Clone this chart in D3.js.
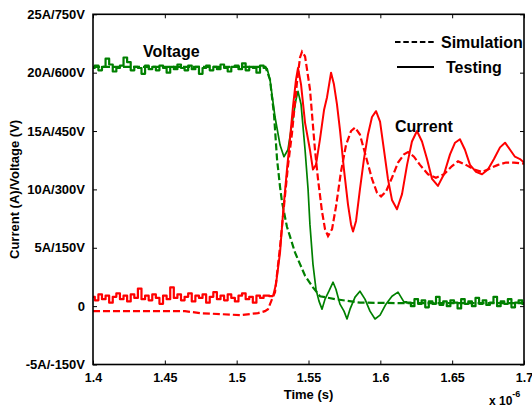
<!DOCTYPE html>
<html><head><meta charset="utf-8">
<script src="https://cdn.jsdelivr.net/npm/d3@7"></script>
<style>
body{margin:0;background:#fff}
svg{display:block}
text{font-family:"Liberation Sans",Arial,Helvetica,sans-serif;font-weight:bold;fill:#000}
</style>
</head><body>
<svg id="c" width="532" height="409"></svg>
<script>
// ---- data (time in microseconds, values in A; voltage scaled 30 V per A) ----
const xTicks = [1.4, 1.45, 1.5, 1.55, 1.6, 1.65, 1.7];
const xTickLabels = ["1.4", "1.45", "1.5", "1.55", "1.6", "1.65", "1.7"];
const yTicks = [-5, 0, 5, 10, 15, 20, 25];
const yTickLabels = ["-5A/-150V", "0", "5A/150V", "10A/300V", "15A/450V", "20A/600V", "25A/750V"];

const flatT = [1.4000,1.4025,1.4050,1.4075,1.4100,1.4125,1.4150,1.4175,1.4200,1.4225,
  1.4250,1.4275,1.4300,1.4325,1.4350,1.4375,1.4400,1.4425,1.4450,1.4475,
  1.4500,1.4525,1.4550,1.4575,1.4600,1.4625,1.4650,1.4675,1.4700,1.4725,
  1.4750,1.4775,1.4800,1.4825,1.4850,1.4875,1.4900,1.4925,1.4950,1.4975,
  1.5000,1.5025,1.5050,1.5075,1.5100,1.5125,1.5150,1.5175,1.5200];
const testVoltageFlat = [20.4,20.6,20.2,20.5,21.2,20.7,20.1,20.4,20.6,21.3,
  20.9,20.2,20.5,20.4,19.9,20.6,20.3,20.5,20.2,20.6,
  20.4,20.0,20.5,20.3,20.7,20.4,20.2,20.6,20.3,20.5,
  19.9,20.4,20.6,20.2,20.5,20.3,20.7,20.4,20.1,20.5,
  20.6,20.3,20.8,20.2,20.5,20.4,20.0,20.6,20.4];
const testCurrentFlat = [0.8,0.5,1.0,0.6,0.9,0.3,0.8,1.1,0.6,0.9,
  0.4,1.0,0.7,1.5,0.6,0.9,0.5,1.0,0.7,0.2,
  0.9,0.6,1.6,0.7,1.0,0.5,0.8,1.1,0.4,0.9,
  0.7,1.0,0.3,0.8,1.2,0.6,0.9,0.5,1.0,0.7,
  0.4,0.9,1.1,0.6,0.8,0.3,0.9,0.7,0.9];

const testVoltageTransient = [[1.5211,20.4],[1.5232,19.4],[1.5267,16.2],[1.5302,13.8],[1.5329,12.8],
  [1.5357,13.4],[1.5385,15.6],[1.5413,17.7],[1.5427,18.4],[1.5448,17.3],[1.5476,13.4],
  [1.5497,10.0],[1.5510,7.0],[1.5531,3.6],[1.5552,1.45],[1.5573,0.43],[1.5594,-0.26],
  [1.5615,0.6],[1.5643,1.3],[1.5671,2.05],[1.5691,1.45],[1.5719,0.17],[1.5747,-0.43],
  [1.5768,-1.1],[1.5789,-0.26],[1.5824,0.77],[1.5858,1.28],[1.5893,0.6],[1.5928,-0.43],
  [1.5963,-1.1],[1.5998,-0.77],[1.6039,0.17],[1.6081,0.85],[1.6123,1.2],[1.6165,0.34]];

const tailT = [1.6200,1.6225,1.6250,1.6275,1.6300,1.6325,1.6350,1.6375,1.6400,1.6425,
  1.6450,1.6475,1.6500,1.6525,1.6550,1.6575,1.6600,1.6625,1.6650,1.6675,
  1.6700,1.6725,1.6750,1.6775,1.6800,1.6825,1.6850,1.6875,1.6900,1.6925,
  1.6950,1.6975,1.7000];
const testVoltageTail = [0.3,0.0,0.6,0.2,0.5,-0.1,0.4,0.2,0.8,0.1,
  0.4,0.0,0.5,0.3,-0.2,0.6,0.2,0.4,0.0,0.7,
  0.2,0.5,0.1,0.3,0.8,0.0,0.4,0.2,0.6,-0.1,
  0.3,0.5,0.2];

const testCurrentTransient = [[1.5253,0.85],[1.5274,1.9],[1.5302,4.6],[1.5323,8.0],[1.5350,11.7],
  [1.5371,14.3],[1.5392,17.1],[1.5413,19.4],[1.5427,20.4],[1.5448,19.0],[1.5476,15.7],
  [1.5510,13.4],[1.5531,11.7],[1.5552,12.1],[1.5580,14.3],[1.5608,16.8],[1.5629,17.9],
  [1.5657,20.0],[1.5677,19.0],[1.5698,17.3],[1.5719,15.1],[1.5747,11.7],[1.5775,8.7],
  [1.5796,7.0],[1.5810,6.4],[1.5831,7.3],[1.5858,10.0],[1.5886,12.6],[1.5914,14.7],
  [1.5942,16.2],[1.5970,16.7],[1.5998,15.8],[1.6025,13.4],[1.6053,10.9],[1.6081,9.1],
  [1.6116,8.3],[1.6151,9.6],[1.6186,12.1],[1.6220,14.1],[1.6255,15.0],[1.6290,14.1],
  [1.6325,12.6],[1.6360,10.9],[1.6401,10.3],[1.6443,11.3],[1.6485,13.0],[1.6520,14.0],
  [1.6554,14.3],[1.6589,13.4],[1.6624,12.1],[1.6666,11.5],[1.6708,11.3],[1.6749,11.7],
  [1.6791,12.6],[1.6833,13.6],[1.6868,14.0],[1.6903,13.4],[1.6937,12.8],[1.6972,12.6],
  [1.7000,12.3]];

const simVoltage = [[1.40,20.5],[1.52,20.5],[1.5232,19.4],[1.5260,16.4],[1.5281,12.6],
  [1.5302,10.2],[1.5316,8.9],[1.5350,6.8],[1.5406,4.6],[1.5476,2.6],[1.5531,1.6],
  [1.5580,0.85],[1.5684,0.6],[1.5858,0.3],[1.62,0.25],[1.70,0.25]];

const simCurrent = [[1.40,-0.43],[1.464,-0.43],[1.4745,-0.6],[1.5023,-0.77],[1.5148,-0.6],
  [1.5197,-0.43],[1.5218,-0.26],[1.5246,0.6],[1.5267,1.2],[1.5302,5.1],[1.5336,9.4],
  [1.5357,12.0],[1.5385,14.8],[1.5420,19.2],[1.5441,21.3],[1.5455,21.8],[1.5476,21.4],
  [1.5510,18.6],[1.5545,13.4],[1.5566,10.9],[1.5594,8.1],[1.5615,6.6],[1.5636,6.0],
  [1.5664,6.6],[1.5691,8.5],[1.5726,11.5],[1.5761,13.8],[1.5796,15.0],[1.5824,15.3],
  [1.5858,14.7],[1.5900,12.8],[1.5942,10.9],[1.5977,9.7],[1.6005,9.4],[1.6039,9.8],
  [1.6081,11.0],[1.6123,12.3],[1.6165,13.0],[1.6193,13.2],[1.6234,12.8],[1.6276,12.1],
  [1.6332,11.3],[1.6387,11.0],[1.6443,11.3],[1.6499,12.0],[1.6541,12.4],[1.6596,12.1],
  [1.6652,11.7],[1.6708,11.5],[1.6763,11.8],[1.6819,12.1],[1.6875,12.3],[1.6930,12.3],
  [1.7000,12.2]];

// ---- build series ----
const testVoltageFlatPts = flatT.map((t,i)=>[t,testVoltageFlat[i]]);
const testVoltageTailPts = tailT.map((t,i)=>[t,testVoltageTail[i]]);
const testCurrentFlatPts = flatT.map((t,i)=>[t,testCurrentFlat[i]]);

// ---- layout ----
const L = 93, R = 524, T = 14.3, B = 364.5;
const svg = d3.select("#c");
const x = d3.scaleLinear().domain([1.4, 1.7]).range([L, R]);
const y = d3.scaleLinear().domain([-5, 25]).range([B, T]);

svg.append("defs").append("clipPath").attr("id","clip")
  .append("rect").attr("x",L).attr("y",T).attr("width",R-L).attr("height",B-T);

const line = d3.line().x(d=>x(d[0])).y(d=>y(d[1]));
const stepLine = d3.line().x(d=>x(d[0])).y(d=>y(d[1])).curve(d3.curveStep);
const g = svg.append("g").attr("clip-path","url(#clip)");
const GREEN = "#008000", RED = "#ff0000";

function solid(data, gen, color, w){
  g.append("path").datum(data).attr("d",gen)
    .attr("fill","none").attr("stroke",color).attr("stroke-width",w).attr("stroke-linejoin","round");
}
function dashed(data, color){
  g.append("path").datum(data).attr("d",line)
    .attr("fill","none").attr("stroke",color).attr("stroke-width",2.2).attr("stroke-dasharray","7,3");
}

dashed(simVoltage, GREEN);
solid(testVoltageFlatPts.concat([testVoltageTransient[0]]), stepLine, GREEN, 2.2);
solid(testVoltageTransient, line, GREEN, 1.7);
solid([testVoltageTransient[testVoltageTransient.length-1]].concat(testVoltageTailPts), stepLine, GREEN, 2.2);
dashed(simCurrent, RED);
solid(testCurrentFlatPts.concat([testCurrentTransient[0]]), stepLine, RED, 2.2);
solid(testCurrentTransient, line, RED, 2);

// ---- axes (MATLAB-style box, ticks inside) ----
const tk = 4;
const axB = d3.axisBottom(x).tickValues(xTicks).tickFormat((d,i)=>xTickLabels[i]).tickSizeInner(-tk).tickSizeOuter(0).tickPadding(9);
const axT = d3.axisTop(x).tickValues(xTicks).tickFormat("").tickSizeInner(-tk).tickSizeOuter(0);
const axL = d3.axisLeft(y).tickValues(yTicks).tickFormat((d,i)=>yTickLabels[i]).tickSizeInner(-tk).tickSizeOuter(0).tickPadding(8);
const axR = d3.axisRight(y).tickValues(yTicks).tickFormat("").tickSizeInner(-tk).tickSizeOuter(0);

function style(sel, fs){
  sel.select(".domain").remove();
  sel.selectAll("line").attr("stroke","#000").attr("stroke-width",1);
  sel.selectAll("text").style("font-family",'"Liberation Sans",Arial,sans-serif')
    .style("font-weight","bold").style("font-size",fs).attr("fill","#000");
}
svg.append("g").attr("transform",`translate(0,${B})`).call(axB).call(style,"12.5px");
svg.append("g").attr("transform",`translate(0,${T})`).call(axT).call(style,"12.5px");
svg.append("g").attr("transform",`translate(${L},0)`).call(axL).call(style,"13px");
svg.append("g").attr("transform",`translate(${R},0)`).call(axR).call(style,"13px");

svg.append("rect").attr("x",L).attr("y",T).attr("width",R-L).attr("height",B-T)
  .attr("fill","none").attr("stroke","#000").attr("stroke-width",1.6);

// ---- titles ----
svg.append("text").attr("x",(L+R)/2).attr("y",399).attr("text-anchor","middle")
  .style("font-size","13px").text("Time (s)");
const e = svg.append("text").attr("x",489).attr("y",405).style("font-size","12px");
e.append("tspan").text("x 10");
e.append("tspan").attr("dy",-8).style("font-size","9px").text("-6");
svg.append("text").attr("transform",`translate(19,${(T+B)/2}) rotate(-90)`)
  .attr("text-anchor","middle").style("font-size","13px").text("Current (A)/Voltage (V)");

// ---- annotations ----
svg.append("text").attr("x",143).attr("y",57).style("font-size","16px").text("Voltage");
svg.append("text").attr("x",395).attr("y",132).style("font-size","16px").text("Current");

// ---- legend ----
svg.append("line").attr("x1",395).attr("x2",434).attr("y1",42).attr("y2",42)
  .attr("stroke","#000").attr("stroke-width",2).attr("stroke-dasharray","5.5,2.8");
svg.append("text").attr("x",441).attr("y",47.5).style("font-size","16px").text("Simulation");
svg.append("line").attr("x1",397).attr("x2",434).attr("y1",67).attr("y2",67)
  .attr("stroke","#000").attr("stroke-width",2);
svg.append("text").attr("x",446).attr("y",72.5).style("font-size","16px").text("Testing");
</script>
</body></html>
